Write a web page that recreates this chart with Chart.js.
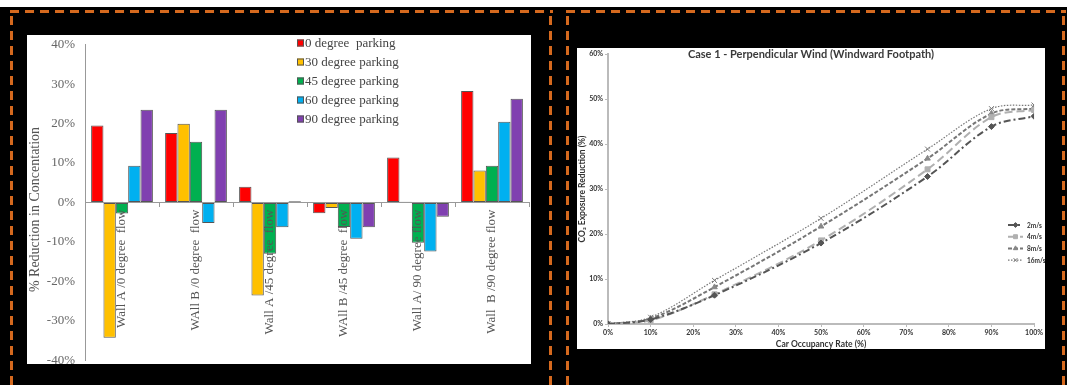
<!DOCTYPE html>
<html><head><meta charset="utf-8">
<script src="https://cdn.jsdelivr.net/npm/chart.js@4.4.1/dist/chart.umd.min.js"></script>
<style>
html,body{margin:0;padding:0;background:#000;width:1067px;height:385px;overflow:hidden;position:relative}
.topwhite{position:absolute;left:0;top:0;width:1067px;height:7px;background:#fff}
.dh{position:absolute;height:3px;background:repeating-linear-gradient(90deg,#d5691e 0 9px,transparent 9px 15px)}
.dv{position:absolute;width:3px;background:repeating-linear-gradient(180deg,#d5691e 0 9px,transparent 9px 15px)}
.panel{position:absolute;background:#fff}
canvas{position:absolute}
</style></head>
<body>
<div class="topwhite"></div>
<div class="dh" style="left:10px;top:10px;width:543px"></div>
<div class="dv" style="left:10px;top:16px;height:380px"></div>
<div class="dv" style="left:549px;top:16px;height:380px"></div>
<div class="dh" style="left:566px;top:10px;width:500px"></div>
<div class="dv" style="left:566px;top:16px;height:380px"></div>
<div class="dv" style="left:1062px;top:16px;height:380px"></div>
<div class="panel" style="left:27px;top:35px;width:504px;height:329px"></div>
<div class="panel" style="left:577px;top:48px;width:468px;height:301px"></div>
<canvas id="c1" width="504" height="351" style="left:27px;top:27px;width:504px;height:351px"></canvas>
<canvas id="c2" width="468" height="301" style="left:577px;top:48px;width:468px;height:301px"></canvas>
<script>
// ---------- Left chart data ----------
const wallCategories = ["Wall A /0 degree  flow","WAll B /0 degree  flow","Wall A /45 degree  flow","WAll B /45 degree  flow","Wall A/ 90 degree flow","Wall  B /90 degree flow"];
const parking0  = [19.5, 17.6, 4.0, -2.7, 11.4, 28.3];
const parking30 = [-34.3, 20.0, -23.6, -1.4, 0.2, 8.1];
const parking45 = [-2.8, 15.4, -13.0, -6.2, -10.2, 9.3];
const parking60 = [9.3, -5.2, -6.3, -9.2, -12.4, 20.5];
const parking90 = [23.5, 23.5, 0.3, -6.3, -3.6, 26.3];
const parkingLabels = ["0 degree  parking","30 degree parking","45 degree parking","60 degree parking","90 degree parking"];
const yTicksLeft = [-40,-30,-20,-10,0,10,20,30,40];

// ---------- Right chart data ----------
const occupancy = [0, 10, 25, 50, 75, 90, 100];
const wind2  = [0, 1.0, 6.4, 18.0, 32.8, 43.9, 46.2];
const wind4  = [0, 0.8, 6.6, 18.6, 34.4, 46.0, 47.6];
const wind8  = [0, 1.2, 8.2, 21.7, 36.8, 46.8, 47.9];
const wind16 = [0, 1.5, 9.7, 23.5, 38.9, 47.9, 48.7];
const windLabels = ["2m/s","4m/s","8m/s","16m/s"];

const serif = '"Liberation Serif", "Times New Roman", serif';
const sans = 'Lato, "Open Sans", sans-serif';

const barColors = ['#ff0000','#ffc000','#00b050','#00b0f0','#8040b0'];
const barSeries = [parking0, parking30, parking45, parking60, parking90];

const leftLegend = {
  id: 'leftLegend',
  afterDraw(chart) {
    const ctx = chart.ctx;
    ctx.save();
    ctx.font = '13px ' + serif;
    ctx.textBaseline = 'middle';
    chart.data.datasets.forEach((ds, i) => {
      const y = 16 + i * 19;
      ctx.fillStyle = ds.backgroundColor;
      ctx.fillRect(270, y - 3.5, 7, 7);
      ctx.strokeStyle = '#555'; ctx.lineWidth = 1;
      ctx.strokeRect(270.5, y - 3, 6, 6);
      ctx.fillStyle = '#444';
      ctx.fillText(ds.label, 278, y + 0.5);
    });
    ctx.restore();
  }
};

new Chart(document.getElementById('c1'), {
  type: 'bar',
  data: {
    labels: wallCategories,
    datasets: barSeries.map((s, i) => ({
      label: parkingLabels[i], data: s,
      backgroundColor: barColors[i], borderColor: '#555', borderWidth: 1, borderSkipped: false,
      categoryPercentage: 0.835, barPercentage: 1.0
    }))
  },
  options: {
    responsive: false, animation: false,
    layout: { padding: { left: 0, right: 2, top: 0, bottom: 0 } },
    plugins: { legend: { display: false }, tooltip: { enabled: false } },
    scales: {
      x: {
        position: { y: 0 },
        grid: { display: true, drawOnChartArea: false, drawTicks: true, tickLength: 4, color: '#999', offset: true },
        border: { display: true, color: '#999', width: 1, z: 1 },
        ticks: { z: 2, autoSkip: false, minRotation: 90, maxRotation: 90, padding: 3, color: '#555', font: { family: serif, size: 13 } }
      },
      y: {
        min: -40, max: 40,
        afterBuildTicks: (s) => { s.ticks = yTicksLeft.map(v => ({ value: v })); },
        afterFit: (s) => { s.width = 58; },
        grid: { display: true, drawOnChartArea: false, drawTicks: false },
        border: { display: true, color: '#999', width: 1 },
        ticks: { padding: 10, color: '#666', font: { family: serif, size: 13 }, callback: v => v + '%' },
        title: { display: true, text: '% Reduction in Concentation\u00A0\u00A0\u00A0\u00A0', color: '#555', padding: 0, font: { family: serif, size: 14 } }
      }
    }
  },
  plugins: [leftLegend]
});

// ---------- Right chart ----------
const windStyles = [
  { color: '#555', dash: [7, 3, 2, 3], width: 2, point: 'rectRot', r: 3, fill: '#555' },
  { color: '#b0b0b0', dash: [8, 4], width: 2, point: 'rect', r: 3.5, fill: '#b0b0b0' },
  { color: '#777', dash: [4, 2], width: 2, point: 'triangle', r: 3.2, fill: '#888' },
  { color: '#777', dash: [1.5, 1.5], width: 1.2, point: 'crossRot', r: 3.5, fill: '#777' }
];
const windSeries = [wind2, wind4, wind8, wind16];

const rightExtras = {
  id: 'rightExtras',
  afterDraw(chart) {
    const ctx = chart.ctx;
    ctx.save();
    ctx.font = 'bold 11px ' + sans;
    ctx.fillStyle = '#3a3a3a';
    ctx.textAlign = 'center'; ctx.textBaseline = 'middle';
    ctx.fillText('Case 1 - Perpendicular Wind (Windward Footpath)', 234, 6);
    // legend
    ctx.textAlign = 'left';
    ctx.font = 'bold 6.5px ' + sans;
    chart.data.datasets.forEach((ds, i) => {
      const st = windStyles[i];
      const y = 177 + i * 11.7;
      ctx.strokeStyle = st.color; ctx.lineWidth = st.width; ctx.setLineDash(st.dash);
      ctx.beginPath(); ctx.moveTo(431, y); ctx.lineTo(446, y); ctx.stroke();
      ctx.setLineDash([]);
      ctx.fillStyle = st.fill; ctx.strokeStyle = st.fill; ctx.lineWidth = 1;
      Chart.helpers.drawPoint(ctx, { pointStyle: st.point, radius: st.r * 0.8, rotation: 0, borderWidth: 1 }, 438.5, y);
      ctx.fillStyle = '#333';
      ctx.fillText(ds.label, 450, y + 0.5);
    });
    ctx.restore();
  }
};

new Chart(document.getElementById('c2'), {
  type: 'line',
  data: {
    datasets: windSeries.map((s, i) => ({
      label: windLabels[i],
      data: occupancy.map((x, j) => ({ x: x, y: s[j] })),
      borderColor: windStyles[i].color, borderWidth: windStyles[i].width, borderDash: windStyles[i].dash,
      pointStyle: windStyles[i].point, pointRadius: windStyles[i].r,
      pointBackgroundColor: windStyles[i].fill, pointBorderColor: windStyles[i].fill, pointBorderWidth: 1,
      tension: 0.35, fill: false
    }))
  },
  options: {
    responsive: false, animation: false,
    layout: { padding: { left: 0, right: 6, top: 5, bottom: 0 } },
    plugins: { legend: { display: false }, tooltip: { enabled: false } },
    scales: {
      x: {
        type: 'linear', min: 0, max: 100,
        afterFit: (s) => { s.height = 25; },
        grid: { display: true, drawOnChartArea: false, drawTicks: true, tickLength: 3, color: '#bbb' },
        border: { display: true, color: '#bbb', width: 2 },
        ticks: { stepSize: 10, padding: 2, color: '#333', font: { family: sans, size: 7, weight: 'bold' }, callback: v => v + '%' },
        title: { display: true, text: 'Car Occupancy Rate (%)', color: '#333', padding: 0, font: { family: sans, size: 8.5, weight: 'bold' } }
      },
      y: {
        min: 0, max: 60,
        afterFit: (s) => { s.width = 31; },
        grid: { display: true, drawOnChartArea: false, drawTicks: true, tickLength: 3, color: '#bbb' },
        border: { display: true, color: '#bbb', width: 2 },
        ticks: { stepSize: 10, padding: 2, color: '#333', font: { family: sans, size: 7, weight: 'bold' }, callback: v => v + '%' },
        title: { display: true, text: 'CO\u2082 Exposure Reduction (%)', color: '#333', padding: 0, font: { family: sans, size: 8.5, weight: 'bold' } }
      }
    }
  },
  plugins: [rightExtras]
});
</script>
</body></html>
